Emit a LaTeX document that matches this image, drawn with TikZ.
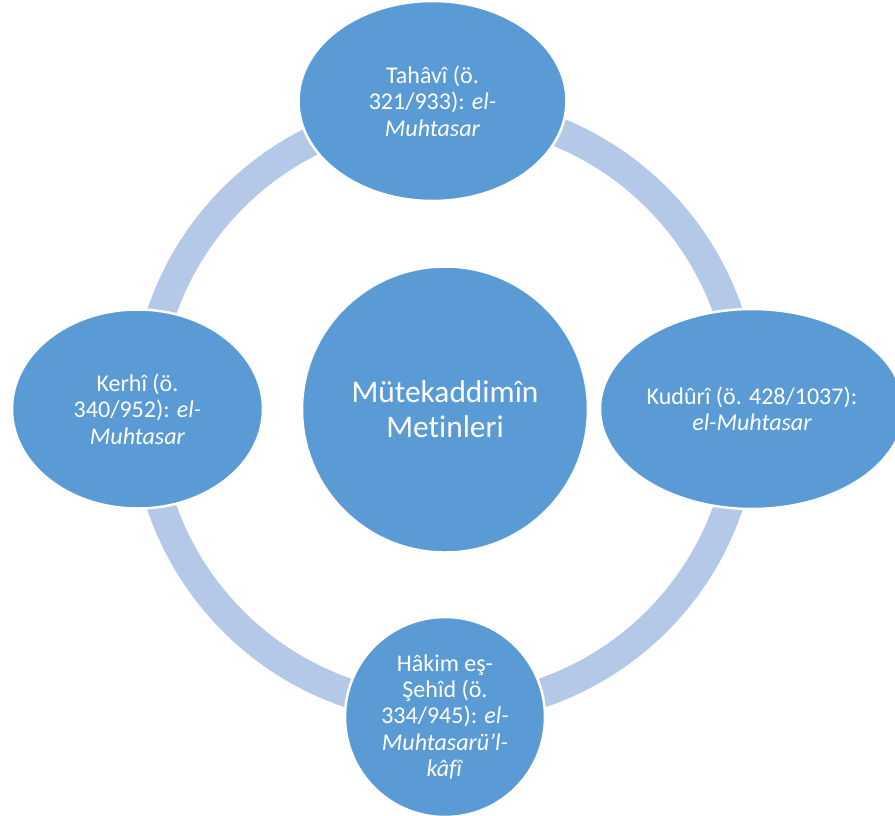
\documentclass[tikz,border=0pt]{standalone}
\usepackage{fontspec}
\setmainfont{Carlito}[Ligatures=NoCommon]
\usetikzlibrary{shapes.geometric}
\definecolor{nodeblue}{HTML}{5B9BD5}
\definecolor{ringblue}{HTML}{B4C8E8}
\begin{document}
\begin{tikzpicture}[x=1pt,y=-1pt,
  bubble/.style={ellipse, fill=nodeblue, draw=white, line width=2.5pt, inner sep=0pt,
    text=white, align=center, font=\fontsize{24}{26.4}\selectfont},
  ring/.style={draw=ringblue, line width=29pt}]
\useasboundingbox (0,0) rectangle (895,815);
\clip (0,0) rectangle (895,815);
\coordinate (o) at (445,409.5);
\draw[ring] (o) circle[radius=299.5pt];
\node[bubble, minimum width=286pt, minimum height=286pt,
  font=\fontsize{31.4}{34.6}\selectfont] (hub) at (o) {Mütekaddimîn\\Metinleri};
\node[bubble, minimum width=268pt, minimum height=200pt] (top) at (432.5,101)
  {Tahâvî (ö.\\321/933): \textit{el-}\\\textit{Muhtasar}};
\node[bubble, minimum width=251pt, minimum height=199pt] (left) at (137.5,409)
  {Kerhî (ö.\\340/952): \textit{el-}\\\textit{Muhtasar}};
\node[bubble, minimum width=304pt, minimum height=200pt] (right) at (752,409)
  {Kudûrî (ö. 428/1037):\\\textit{el-Muhtasar}};
\node[bubble, minimum width=200pt, minimum height=200pt] (bottom) at (445,717)
  {Hâkim eş-\\Şehîd (ö.\\334/945): \textit{el-}\\\textit{Muhtasarü’l-}\\\textit{kâfî}};
\end{tikzpicture}
\end{document}
